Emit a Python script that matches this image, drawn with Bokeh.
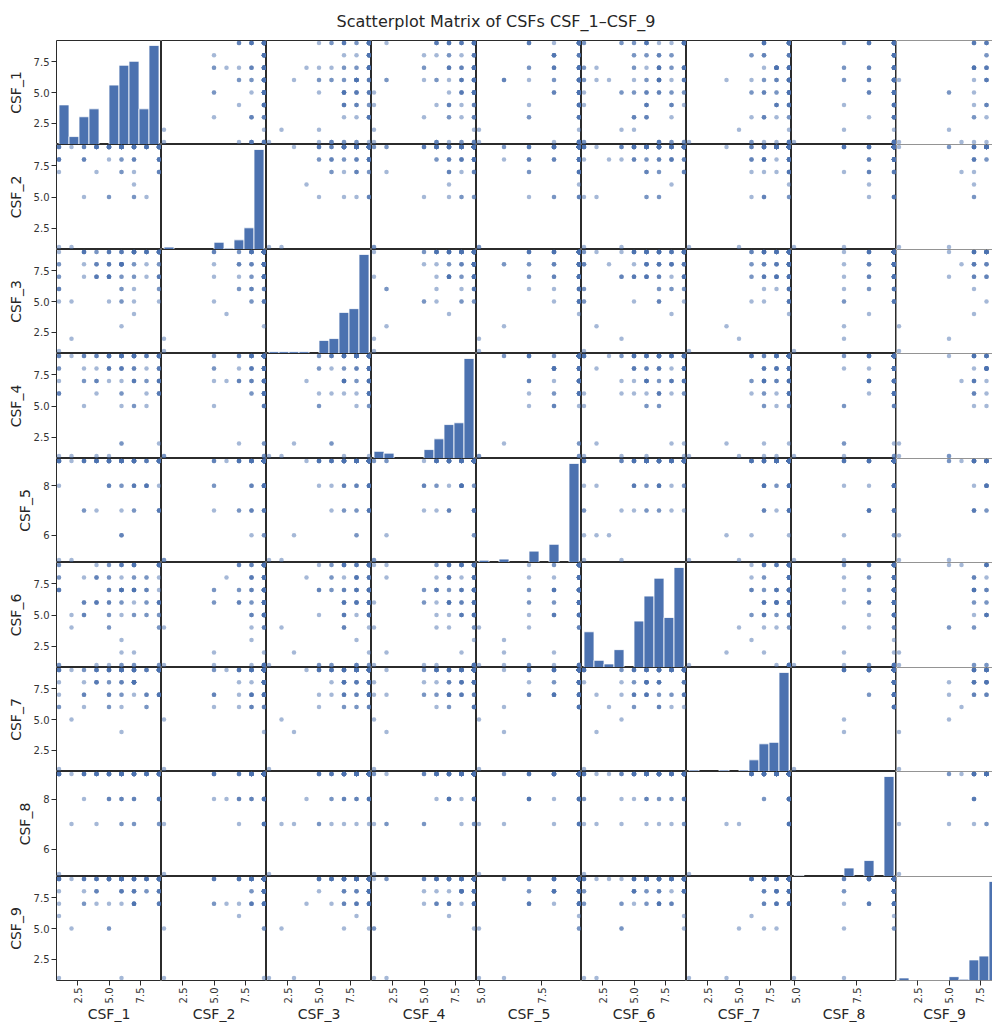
import numpy as np
from bokeh.plotting import figure
from bokeh.layouts import gridplot, column
from bokeh.models import Div, FixedTicker, PrintfTickFormatter, Range1d, LinearAxis, Span
from bokeh.embed import file_html
from bokeh.resources import INLINE

TITLE = "Scatterplot Matrix of CSFs CSF_1–CSF_9"
VARS = ["CSF_1", "CSF_2", "CSF_3", "CSF_4", "CSF_5", "CSF_6", "CSF_7", "CSF_8", "CSF_9"]

CSF_1 = [1, 6, 2,
         9, 7, 6, 9, 8, 9, 5, 7, 9, 6, 9, 4, 9, 7, 1, 9, 6, 8, 9, 7,
         3, 9, 6, 9, 7, 5, 9, 8, 6, 9, 7, 9, 4, 5, 7, 7, 6, 9, 8, 1,
         6, 7, 6, 5, 9, 3, 7, 4, 8, 5, 6, 9, 5, 7, 1, 6, 8, 4, 9, 7,
         5, 6, 3, 9, 7, 1, 6, 5, 9, 8, 7, 2, 6, 9, 5, 4, 7, 1, 9, 6,
         5, 7, 3, 9, 8, 6, 1, 7, 4, 5, 4, 7, 1, 6, 9, 5, 3, 7, 6, 5,
         8, 4, 9, 1, 6, 7, 3, 5, 9, 6, 5, 7, 4, 3, 1]
CSF_2 = [1, 9, 1,
         9, 9, 9, 8, 9, 9, 9, 9, 9, 9, 9, 9, 7, 9, 9, 9, 8, 9, 9, 9,
         9, 9, 9, 9, 8, 9, 9, 9, 9, 9, 8, 9, 9, 9, 9, 9, 7, 9, 9, 8,
         9, 9, 9, 9, 9, 8, 9, 9, 9, 9, 9, 8, 9, 9, 9, 7, 9, 9, 8, 9,
         9, 9, 5, 9, 9, 8, 9, 9, 9, 9, 8, 9, 9, 7, 9, 9, 9, 8, 9, 9,
         9, 9, 8, 9, 5, 9, 9, 7, 9, 8, 9, 5, 8, 9, 7, 9, 9, 6, 8, 5,
         9, 9, 8, 7, 9, 5, 9, 9, 8, 9, 5, 9, 7, 8, 9]
CSF_3 = [1, 3, 2,
         9, 8, 9, 9, 7, 9, 9, 8, 9, 9, 8, 9, 9, 6, 9, 9, 7, 9, 8, 9,
         9, 9, 8, 9, 9, 7, 9, 9, 8, 9, 9, 7, 9, 8, 9, 9, 6, 9, 9, 8,
         7, 9, 9, 8, 9, 8, 9, 7, 9, 9, 8, 9, 7, 9, 6, 8, 9, 7, 5, 9,
         7, 8, 9, 9, 7, 6, 8, 9, 7, 9, 9, 5, 8, 7, 9, 8, 9, 6, 7, 9,
         8, 7, 9, 9, 8, 5, 7, 9, 8, 7, 7, 9, 5, 8, 6, 7, 9, 4, 8, 5,
         9, 7, 6, 8, 5, 9, 7, 8, 9, 6, 7, 5, 8, 9, 7]
CSF_4 = [1, 2, 1,
         9, 9, 8, 9, 9, 7, 9, 9, 9, 8, 9, 6, 9, 9, 8, 9, 9, 7, 9, 9,
         8, 9, 9, 9, 7, 9, 8, 9, 9, 6, 9, 9, 7, 8, 9, 9, 9, 8, 9, 9,
         7, 9, 8, 9, 6, 9, 9, 7, 8, 9, 9, 7, 8, 9, 6, 9, 7, 9, 8, 5,
         9, 9, 7, 6, 9, 8, 9, 1, 7, 9, 8, 9, 6, 7, 9, 9, 8, 9, 7, 6,
         9, 7, 9, 8, 5, 9, 6, 7, 9, 8, 7, 9, 6, 8, 2, 9, 5, 7, 9, 8,
         6, 1, 9, 7, 5, 8, 9, 7, 6, 2, 9, 5, 8, 7, 9]
CSF_5 = [5, 6, 5,
         9, 9, 9, 9, 8, 9, 9, 9, 9, 9, 9, 9, 9, 9, 9, 9, 9, 8, 9, 9,
         9, 7, 9, 9, 9, 9, 9, 9, 9, 9, 9, 9, 9, 8, 9, 9, 9, 9, 9, 9,
         9, 9, 8, 9, 9, 9, 9, 9, 8, 9, 9, 9, 8, 9, 9, 7, 9, 9, 9, 8,
         9, 9, 9, 8, 9, 9, 6, 9, 9, 9, 8, 9, 9, 7, 9, 9, 9, 8, 9, 9,
         9, 7, 9, 9, 8, 9, 9, 9, 7, 8, 9, 7, 9, 8, 9, 9, 7, 9, 6, 9,
         8, 9, 7, 9, 9, 8, 9, 9, 7, 9, 9, 8, 9, 7, 9]
CSF_6 = [1, 2, 4,
         9, 7, 9, 6, 8, 9, 7, 9, 5, 7, 9, 8, 6, 9, 7, 1, 9, 7, 8, 9,
         6, 9, 7, 9, 8, 5, 9, 7, 6, 9, 7, 9, 8, 6, 9, 7, 7, 5, 6, 8,
         9, 6, 7, 1, 9, 8, 7, 9, 5, 6, 7, 6, 9, 5, 1, 7, 8, 6, 9, 7,
         4, 9, 6, 7, 5, 8, 1, 9, 6, 7, 9, 5, 7, 6, 8, 1, 9, 7, 4, 6,
         8, 7, 5, 9, 6, 1, 7, 9, 8, 5, 6, 1, 7, 5, 9, 4, 6, 8, 3, 7,
         5, 6, 1, 9, 7, 2, 5, 6, 4, 8, 7, 1, 6, 5, 9]
CSF_7 = [1, 4, 5,
         9, 9, 8, 9, 9, 9, 7, 9, 9, 8, 9, 9, 9, 8, 9, 9, 9, 7, 9, 9,
         8, 9, 9, 9, 9, 6, 9, 9, 8, 9, 9, 7, 9, 9, 8, 9, 9, 9, 9, 7,
         9, 8, 9, 9, 7, 9, 8, 9, 9, 9, 9, 7, 9, 8, 9, 9, 6, 9, 7, 8,
         9, 9, 7, 9, 8, 9, 9, 7, 9, 6, 8, 9, 9, 7, 9, 8, 9, 9, 7, 9,
         9, 8, 6, 9, 7, 9, 8, 9, 9, 7, 8, 9, 6, 7, 9, 8, 7, 9, 6, 9,
         7, 8, 9, 6, 9, 7, 9, 8, 9, 7, 6, 9, 8, 7, 9]
CSF_8 = [5, 7, 7,
         9, 9, 9, 9, 9, 8, 9, 9, 9, 9, 9, 9, 9, 9, 9, 9, 9, 9, 7, 9,
         9, 9, 8, 9, 9, 9, 9, 9, 9, 9, 9, 9, 9, 9, 9, 9, 8, 9, 9, 9,
         9, 9, 9, 9, 9, 9, 9, 9, 9, 8, 9, 9, 8, 9, 9, 9, 9, 7, 9, 9,
         9, 8, 9, 9, 9, 9, 9, 9, 8, 9, 9, 9, 9, 8, 9, 9, 7, 9, 9, 9,
         8, 9, 9, 9, 9, 9, 9, 8, 9, 9, 9, 8, 9, 9, 7, 9, 9, 8, 9, 9,
         9, 9, 8, 9, 7, 9, 9, 9, 8, 9, 9, 7, 9, 8, 9]
CSF_9 = [1, 1, 5,
         9, 9, 8, 9, 9, 9, 7, 9, 9, 8, 9, 9, 9, 9, 8, 9, 9, 9, 7, 9,
         9, 8, 9, 9, 9, 9, 8, 9, 9, 9, 7, 9, 9, 9, 8, 9, 9, 9, 9, 9,
         9, 9, 8, 9, 9, 7, 9, 9, 8, 9, 9, 8, 9, 7, 9, 9, 9, 8, 9, 7,
         9, 9, 7, 9, 8, 9, 9, 5, 9, 9, 8, 9, 7, 9, 9, 8, 9, 9, 7, 9,
         9, 7, 9, 8, 9, 9, 7, 9, 8, 9, 9, 7, 9, 8, 9, 5, 9, 7, 9, 9,
         8, 9, 7, 6, 9, 9, 8, 9, 7, 9, 9, 8, 7, 9, 9]

TICKS_FULL = [2.5, 5.0, 7.5]
TICKS_HIGH_X = [5.0, 7.5]
TICKS_HIGH_Y = [6, 8]

data = {v: np.array(vals, dtype=float) for v, vals in
        zip(VARS, [CSF_1, CSF_2, CSF_3, CSF_4, CSF_5, CSF_6, CSF_7, CSF_8, CSF_9])}

BLUE = "#4c72b0"
EDGE = "#2b2b2b"
FONT = "DejaVu Sans"
FRAME_W, LAST_W = 105, 96
ROW_H = [104, 105, 104, 105, 104, 105, 104, 105, 104]
LEFT, BOTTOM = 56, 42

bounds = {}
for v in VARS:
    lo, hi = data[v].min(), data[v].max()
    pad = (hi - lo) * 0.05 / 2
    bounds[v] = (lo - pad, hi + pad)


def style_axis(ax):
    ax.axis_line_color = None
    ax.major_tick_line_color = EDGE
    ax.major_tick_line_width = 1
    ax.major_tick_out = 5
    ax.major_tick_in = 0
    ax.minor_tick_line_color = None
    ax.major_label_text_font = FONT
    ax.major_label_text_font_size = "10px"
    ax.major_label_text_color = "#333333"
    ax.major_label_standoff = 2
    ax.axis_label_text_font = FONT
    ax.axis_label_text_font_size = "14px"
    ax.axis_label_text_font_style = "normal"
    ax.axis_label_text_color = "#262626"


n = len(VARS)
rows = []
for i, a in enumerate(VARS):
    row = []
    for j, b in enumerate(VARS):
        xs, xe = bounds[b]
        fw = FRAME_W
        last = j == n - 1
        if last:
            xe = xs + (xe - xs) * LAST_W / FRAME_W
            fw = LAST_W
        ys, ye = bounds[a]
        p = figure(frame_width=fw, frame_height=ROW_H[i],
                   x_range=Range1d(xs, xe), y_range=Range1d(ys, ye),
                   x_axis_location=None, y_axis_location=None,
                   output_backend="svg", toolbar_location=None,
                   min_border=0, outline_line_color=None if last else EDGE,
                   outline_line_width=1,
                   background_fill_color="white", border_fill_color="white")
        p.grid.grid_line_color = None
        if i == j:
            counts, edges = np.histogram(data[a], bins=10)
            p.extra_y_ranges = {"count": Range1d(0, counts.max() * 1.05)}
            p.quad(left=edges[:-1], right=edges[1:], bottom=0, top=counts,
                   y_range_name="count", fill_color=BLUE, line_color="white", line_width=0.8)
        else:
            p.scatter(data[b], data[a], size=4.5, fill_color=BLUE, fill_alpha=0.5,
                      line_color=None)
        if last:
            p.add_layout(Span(location=xs, dimension="height", line_color=EDGE, line_width=1))
            p.add_layout(Span(location=ys, dimension="width", line_color=EDGE, line_width=1))
            p.add_layout(Span(location=ye, dimension="width", line_color=EDGE, line_width=1))
        if j == 0:
            wide = data[a].max() - data[a].min() >= 8
            ax = LinearAxis(axis_label=a,
                            ticker=FixedTicker(ticks=TICKS_FULL if wide else TICKS_HIGH_Y),
                            formatter=PrintfTickFormatter(format="%.1f" if wide else "%d"))
            style_axis(ax)
            ax.axis_label_standoff = 7
            p.add_layout(ax, "left")
            p.min_border_left = LEFT
        if i == n - 1:
            wide = data[b].max() - data[b].min() >= 8
            ax = LinearAxis(axis_label=b,
                            ticker=FixedTicker(ticks=TICKS_FULL if wide else TICKS_HIGH_X),
                            formatter=PrintfTickFormatter(format="%.1f"))
            style_axis(ax)
            ax.major_label_orientation = np.pi / 2
            ax.axis_label_standoff = 0
            p.add_layout(ax, "below")
            p.min_border_bottom = BOTTOM
        row.append(p)
    rows.append(row)

grid = gridplot(rows, toolbar_location=None)

title = Div(text=('<div style="width:956px;padding-left:36px;padding-top:13px;text-align:center;'
                  'font-family:\'DejaVu Sans\';font-size:16px;line-height:1.15;'
                  'color:#262626;white-space:nowrap">' + TITLE + '</div>'),
            width=992, height=40, margin=(0, 0, 0, 0))

layout = column(title, grid)
open("out.html", "w").write(file_html(layout, INLINE, title=TITLE))
